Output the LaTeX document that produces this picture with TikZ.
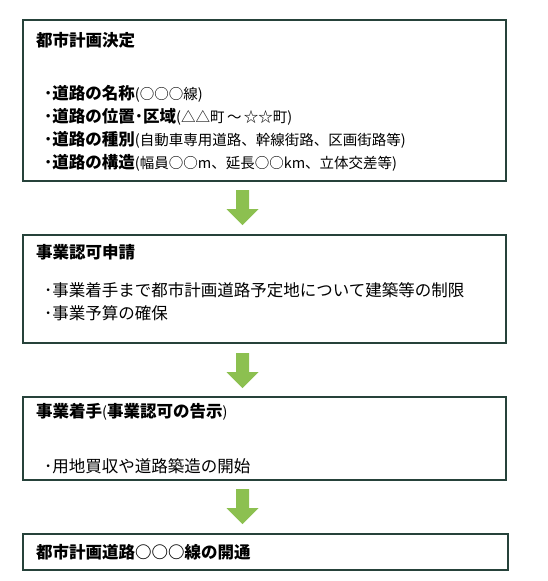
\documentclass[tikz,border=0pt]{standalone}
\usepackage{fontspec}
\newfontfamily\cjk{Noto Sans CJK JP}
\definecolor{boxline}{RGB}{38,66,58}
\definecolor{arrowgreen}{RGB}{140,192,80}
\tikzset{
  stagebox/.style={draw=boxline, line width=1.6pt, fill=white},
  ttl/.style={anchor=west, inner sep=0pt, font=\cjk\fontsize{16.5}{16.5}\selectfont\bfseries},
  itm/.style={anchor=west, inner sep=0pt, font=\cjk\fontsize{16.5}{16.5}\selectfont},
  itmb/.style={itm, font=\cjk\fontsize{16.5}{16.5}\selectfont\bfseries},
  blockarrow/.style={fill=arrowgreen, draw=none}
}
\newcommand{\sm}[1]{{\fontsize{14.5}{14.5}\selectfont\mdseries #1}}
\newcommand{\greenarrow}[2]{%
  \fill[blockarrow] ($(#1)+(-6.5,0)$) -- ($(#1)+(6.5,0)$) -- ($(#2)+(6.5,-16)$) -- ($(#2)+(16,-16)$)
    -- (#2) -- ($(#2)+(-16,-16)$) -- ($(#2)+(-6.5,-16)$) -- cycle;}
\usetikzlibrary{calc}
\begin{document}
\begin{tikzpicture}[x=1pt,y=-1pt]
\useasboundingbox (0,0) rectangle (548,581);
% boxes
\draw[stagebox] (23,20) rectangle (506,181);
\draw[stagebox] (23,235) rectangle (506,343);
\draw[stagebox] (23,397) rectangle (506,480);
\draw[stagebox] (23,534) rectangle (508,570);
% texts
\node[ttl] (t1) at (36,40) {都市計画決定};
\node[itmb] (b11) at (44,94) {･道路の名称\sm{(○○○線)}};
\node[itmb] (b12) at (44,117) {･道路の位置･区域\sm{(△△町\,～\,☆☆町)}};
\node[itmb] (b13) at (44,140) {･道路の種別\sm{(自動車専用道路、幹線街路、区画街路等)}};
\node[itmb] (b14) at (44,163) {･道路の構造\sm{(幅員○○m、延長○○km、立体交差等)}};
\node[ttl] (t2) at (36,252) {事業認可申請};
\node[itm] (b21) at (44,290) {･事業着手まで都市計画道路予定地について建築等の制限};
\node[itm] (b22) at (44,313) {･事業予算の確保};
\node[ttl] (t3) at (36,412) {事業着手\sm{(}事業認可の告示\sm{)}};
\node[itm] (b31) at (44,466) {･用地買収や道路築造の開始};
\node[ttl] (t4) at (36,552) {都市計画道路○○○線の開通};
% arrows
\coordinate (a1s) at (242.5,190); \coordinate (a1e) at (242.5,225);
\coordinate (a2s) at (242.5,353); \coordinate (a2e) at (242.5,388);
\coordinate (a3s) at (242.5,489); \coordinate (a3e) at (242.5,524);
\greenarrow{a1s}{a1e}
\greenarrow{a2s}{a2e}
\greenarrow{a3s}{a3e}
\end{tikzpicture}
\end{document}
